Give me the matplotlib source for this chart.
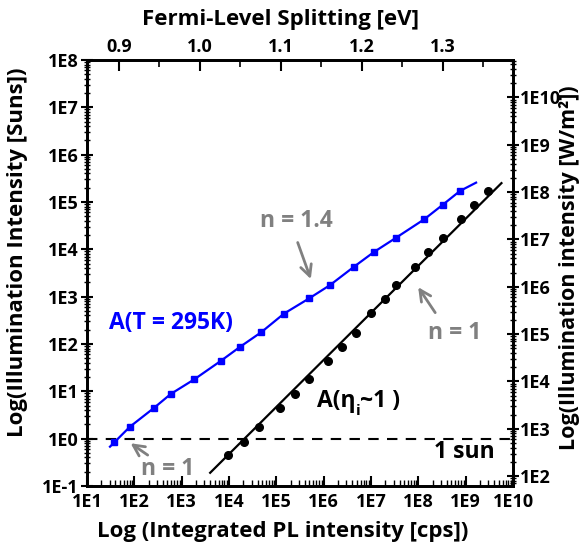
import numpy as np
import matplotlib
matplotlib.use("Agg")
import matplotlib.pyplot as plt
from matplotlib.ticker import LogLocator, FixedLocator, NullFormatter

plt.rcParams['font.family'] = ['Open Sans', 'DejaVu Sans']
plt.rcParams['font.weight'] = 'bold'

# data
# A(T = 295K), blue squares
blue_pl = [3.8e1, 8.1e1, 2.6e2, 5.9e2, 1.85e3, 6.7e3, 1.7e4, 4.8e4, 1.45e5,
           4.9e5, 1.36e6, 4.4e6, 1.16e7, 3.4e7, 1.34e8, 3.3e8, 7.6e8]
blue_suns = [0.84, 1.79, 4.45, 8.8, 17.9, 43.8, 86.5, 177, 437,
             914, 1750, 4300, 8790, 17600, 43200, 87700, 171000]
# A(eta_i ~ 1), black circles
black_pl = [9.7e3, 2.1e4, 4.4e4, 1.2e5, 2.5e5, 4.8e5, 1.25e6, 2.4e6, 4.75e6,
            9.9e6, 2.0e7, 3.4e7, 8.6e7, 1.58e8, 3.4e8, 8.0e8, 1.48e9, 2.92e9]
black_suns = [0.45, 0.84, 1.79, 4.39, 8.65, 17.9, 43.8, 87.7, 173,
              446, 893, 1750, 4300, 8790, 17100, 43200, 87700, 173000]
# fit lines
black_fit_pl = [4.0e3, 5.7e9]
black_fit_suns = [0.19, 2.5e5]
blue_fit_start = (30.6, 0.676)
blue_fit_end = (1.66e9, 2.56e5)

w_per_sun = 620.0          # right axis conversion (suns -> W/m^2)
qfls_ref = (0.9, 10**1.677)  # top axis: 0.9 eV at this PL value
kt_ln10 = 0.02542 * np.log(10)  # eV per decade at 295 K

fig = plt.figure(figsize=(5.8, 5.49), dpi=100)
ax = fig.add_axes([0.15, 0.1148, 0.7345, 0.7760])

blue_fit_pl = [blue_fit_start[0]] + blue_pl + [blue_fit_end[0]]
blue_fit_suns = [blue_fit_start[1]] + blue_suns + [blue_fit_end[1]]
ax.plot(blue_fit_pl, blue_fit_suns, color='#0000ff', lw=1.6, zorder=2)
ax.plot(blue_pl, blue_suns, 's', color='#0000ff', ms=5, zorder=3)
ax.plot(black_fit_pl, black_fit_suns, color='black', lw=1.6, zorder=2)
ax.plot(black_pl, black_suns, 'o', color='black', ms=5.5, zorder=3)
ax.axhline(1.0, color='black', lw=1.5, ls=(0, (5, 4)), zorder=1)

ax.set_xscale('log')
ax.set_yscale('log')

ax.xaxis.set_minor_locator(LogLocator(base=10, subs=np.arange(2, 10), numticks=20))
ax.yaxis.set_minor_locator(LogLocator(base=10, subs=np.arange(2, 10), numticks=20))
ax.xaxis.set_minor_formatter(NullFormatter())
ax.yaxis.set_minor_formatter(NullFormatter())
ax.set_xticks([10.0**k for k in range(1, 11)])
ax.set_xticklabels(['1E%d' % k for k in range(1, 11)])
ax.set_yticks([10.0**k for k in range(-1, 9)])
ax.set_yticklabels(['1E%d' % k for k in range(-1, 9)])
ax.set_xlim(1e1, 1e10)
ax.set_ylim(1e-1, 1e8)

tick_fs = 13
ax.tick_params(axis='x', which='major', direction='in', length=7, width=1.5,
               labelsize=tick_fs, pad=5, top=False)
ax.tick_params(axis='x', which='minor', direction='in', length=4, width=1, top=False)
ax.tick_params(axis='y', which='major', direction='inout', length=8, width=1.5,
               labelsize=tick_fs, pad=2, right=False)
ax.tick_params(axis='y', which='minor', direction='inout', length=4, width=1, right=False)
for s in ax.spines.values():
    s.set_linewidth(1.8)

# right axis: W/m^2
ax2 = ax.twinx()
ax2.set_yscale('log')
ax2.yaxis.set_minor_locator(LogLocator(base=10, subs=np.arange(2, 10), numticks=20))
ax2.yaxis.set_minor_formatter(NullFormatter())
ax2.set_yticks([10.0**k for k in range(2, 11)])
ax2.set_yticklabels(['1E%d' % k for k in range(2, 11)])
ax2.set_ylim(1e-1 * w_per_sun, 1e8 * w_per_sun)
ax2.tick_params(axis='y', which='major', direction='inout', length=8, width=1.5,
                labelsize=tick_fs, pad=1)
ax2.tick_params(axis='y', which='minor', direction='inout', length=4, width=1)

# top axis: Fermi-level splitting, linear in log(PL)
ax3 = ax.twiny()
e_lo = qfls_ref[0] + kt_ln10 * (1 - np.log10(qfls_ref[1]))
e_hi = qfls_ref[0] + kt_ln10 * (10 - np.log10(qfls_ref[1]))
ax3.set_xlim(e_lo, e_hi)
top_major = [0.9, 1.0, 1.1, 1.2, 1.3]
top_minor = [0.95, 1.05, 1.15, 1.25, 1.35]
ax3.xaxis.set_major_locator(FixedLocator(top_major))
ax3.xaxis.set_minor_locator(FixedLocator(top_minor))
ax3.set_xticklabels(['%.1f' % v for v in top_major])
ax3.tick_params(axis='x', which='major', direction='in', length=8, width=1.5,
                labelsize=tick_fs, pad=3)
ax3.tick_params(axis='x', which='minor', direction='in', length=5, width=1.2)
for a in (ax2, ax3):
    for s in a.spines.values():
        s.set_linewidth(1.8)

# axis titles
lab_fs = 16
fig.text(283 / 580, 1 - 532 / 549, 'Log (Integrated PL intensity [cps])',
         ha='center', va='center', fontsize=lab_fs, fontweight='bold')
fig.text(281 / 580, 1 - 20 / 549, 'Fermi-Level Splitting [eV]',
         ha='center', va='center', fontsize=lab_fs, fontweight='bold')
fig.text(18 / 580, 1 - 252 / 549, 'Log(Illumination Intensity [Suns])',
         ha='center', va='center', rotation=90, fontsize=lab_fs, fontweight='bold')
fig.text(570 / 580, 1 - 268 / 549, 'Log(Illumination intensity [W/m²])',
         ha='center', va='center', rotation=90, fontsize=15.5, fontweight='bold')

gray = '#808080'
ann_fs = 16.5
arrow = dict(arrowstyle='->', color=gray, lw=2, mutation_scale=20)
ax.text(2.7e5, 4.0e4, 'n = 1.4', color=gray, fontsize=ann_fs, ha='center', va='center')
ax.annotate('', xy=(5.6e5, 2.07e3), xytext=(2.7e5, 1.58e4), arrowprops=arrow)
ax.text(596, 271, 'A(T = 295K)', color='#0000ff', fontsize=ann_fs, ha='center', va='center')
ax.text(514, 0.223, 'n = 1', color=gray, fontsize=ann_fs, ha='center', va='center')
ax.annotate('', xy=(74.6, 0.863), xytext=(214, 0.416), arrowprops=arrow)
ax.text(5.96e8, 167, 'n = 1', color=gray, fontsize=ann_fs, ha='center', va='center')
ax.annotate('', xy=(9.2e7, 1770), xytext=(2.45e8, 410), arrowprops=arrow)
ax.text(4.2e9, 0.52, '1 sun', color='black', fontsize=ann_fs, ha='right', va='center')

t1 = ax.text(7.2e5, 6.25, 'A(η', color='black', fontsize=ann_fs, ha='left', va='center')
t2 = ax.annotate('i', xy=(1, 0.08), xycoords=t1, fontsize=11, ha='left', va='center')
ax.annotate('~1 )', xy=(1, 0.5), xycoords=(t2, t1), fontsize=ann_fs, ha='left', va='center')

fig.savefig('out.png', dpi=100)
